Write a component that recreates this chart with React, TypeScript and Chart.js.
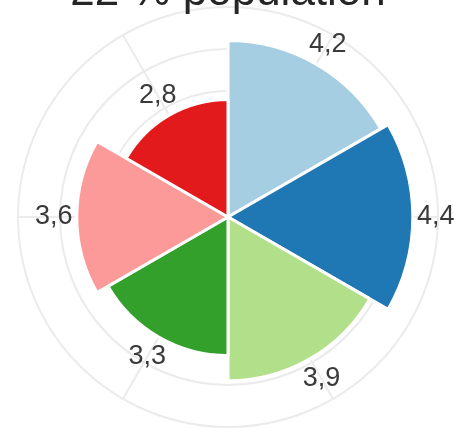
import React, { useEffect, useRef } from "react";
import { Chart, registerables } from "chart.js";

Chart.register(...registerables);

const TITLE = "22 % population";
const categories = ["Groupe 1", "Groupe 2", "Groupe 3", "Groupe 4", "Groupe 5", "Groupe 6"];
const values = [4.2, 4.4, 3.9, 3.3, 3.6, 2.8];
const colors = ["#a6cee3", "#1f78b4", "#b2df8a", "#33a02c", "#fb9a99", "#e31a1c"];
const scaleMax = 5;
const scaleStep = 1;

const GRID_COLOR = "#ebebeb";
const LABEL_OFFSET = 23;

const midAngleLines = {
  id: "midAngleLines",
  beforeDatasetsDraw(chart: any) {
    const scale = chart.scales.r;
    const meta = chart.getDatasetMeta(0);
    const ctx = chart.ctx;
    ctx.save();
    ctx.strokeStyle = GRID_COLOR;
    ctx.lineWidth = 2;
    meta.data.forEach((arc: any) => {
      const { startAngle, endAngle } = arc.getProps(["startAngle", "endAngle"], true);
      const mid = (startAngle + endAngle) / 2;
      ctx.beginPath();
      ctx.moveTo(scale.xCenter, scale.yCenter);
      ctx.lineTo(
        scale.xCenter + Math.cos(mid) * scale.drawingArea,
        scale.yCenter + Math.sin(mid) * scale.drawingArea
      );
      ctx.stroke();
    });
    ctx.restore();
  },
};

const valueLabels = {
  id: "valueLabels",
  afterDatasetsDraw(chart: any) {
    const scale = chart.scales.r;
    const meta = chart.getDatasetMeta(0);
    const ctx = chart.ctx;
    ctx.save();
    ctx.font = "27px 'Liberation Sans', Arial, sans-serif";
    ctx.fillStyle = "#3a3a3a";
    ctx.textAlign = "center";
    ctx.textBaseline = "middle";
    meta.data.forEach((arc: any, i: number) => {
      const { startAngle, endAngle } = arc.getProps(["startAngle", "endAngle"], true);
      const mid = (startAngle + endAngle) / 2;
      const r = scale.getDistanceFromCenterForValue(values[i]) + LABEL_OFFSET;
      const text = values[i].toFixed(1).replace(".", ",");
      ctx.fillText(text, scale.xCenter + Math.cos(mid) * r, scale.yCenter + Math.sin(mid) * r);
    });
    ctx.restore();
  },
};

export default function App() {
  const ref = useRef<HTMLCanvasElement>(null);
  useEffect(() => {
    if (!ref.current) return;
    const chart = new Chart(ref.current, {
      type: "polarArea",
      data: {
        labels: categories,
        datasets: [
          {
            data: values,
            backgroundColor: colors,
            borderColor: "#ffffff",
            borderWidth: 3,
          },
        ],
      },
      options: {
        animation: false,
        responsive: true,
        maintainAspectRatio: false,
        layout: { padding: { left: 18, right: 16, top: 0, bottom: 5 } },
        plugins: {
          legend: { display: false },
          tooltip: { enabled: false },
          title: {
            display: true,
            text: TITLE,
            color: "#262626",
            font: { size: 44, family: "'Liberation Sans', Arial, sans-serif", weight: "normal", lineHeight: 0.7 },
            padding: { top: 0, bottom: 0 },
          },
        },
        scales: {
          r: {
            min: 0,
            max: scaleMax,
            ticks: { display: false, stepSize: scaleStep },
            grid: { color: GRID_COLOR, lineWidth: 2 },
            angleLines: { display: false },
            pointLabels: { display: false },
          },
        },
      } as any,
      plugins: [midAngleLines, valueLabels],
    });
    return () => chart.destroy();
  }, []);
  return (
    <div style={{ position: "absolute", left: 0, top: -23, width: 454, height: 456 }}>
      <canvas ref={ref} />
    </div>
  );
}
